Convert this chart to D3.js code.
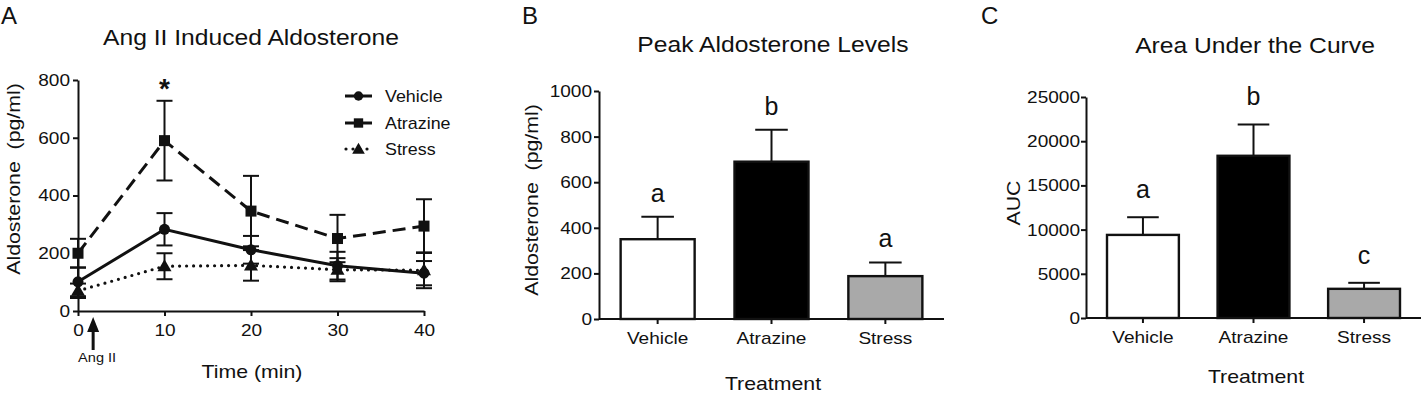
<!DOCTYPE html>
<html>
<head>
<meta charset="utf-8">
<script src="https://cdn.jsdelivr.net/npm/d3@7"></script>
<style>
  html, body { margin: 0; padding: 0; background: #fff; }
  svg { display: block; }
  text { font-family: "Liberation Sans", Arial, Helvetica, sans-serif; fill: #111; }
</style>
</head>
<body>
<svg id="chart" width="1424" height="394"></svg>
<script>
// ---------- data ----------
const times = [0, 10, 20, 30, 40];
const timeTicks = [0, 10, 20, 30, 40];
const aTicks = [0, 200, 400, 600, 800];

const vehicleMean = [101, 283, 212, 157, 131];
const vehicleSem  = [50, 56, 48, 48, 42];
const atrazineMean = [200, 590, 346, 251, 294];
const atrazineSem  = [50, 138, 122, 82, 93];
const stressMean = [70, 155, 158, 143, 141];
const stressSem  = [25, 45, 53, 40, 62];

const seriesNames = ["Vehicle", "Atrazine", "Stress"];

const categories = ["Vehicle", "Atrazine", "Stress"];
const peakMean = [350, 690, 188];
const peakSem  = [98, 140, 60];
const peakLetters = ["a", "b", "a"];
const peakTicks = [0, 200, 400, 600, 800, 1000];

const aucMean = [9400, 18350, 3300];
const aucSem  = [2000, 3550, 680];
const aucLetters = ["a", "b", "c"];
const aucTicks = [0, 5000, 10000, 15000, 20000, 25000];

const barFills = ["#ffffff", "#000000", "#a9a9a9"];

// ---------- helpers ----------
const svg = d3.select("#chart");
const SX = 1.12;
function stretch(sel, k) {
  sel.each(function () {
    const w = this.getComputedTextLength();
    if (w > 0) {
      d3.select(this).attr("textLength", w * k).attr("lengthAdjust", "spacingAndGlyphs");
    }
  });
}
function styleAxis(g) {
  g.select(".domain").attr("stroke", "#111").attr("stroke-width", 2);
  g.selectAll(".tick line").attr("stroke", "#111").attr("stroke-width", 2);
  g.selectAll(".tick text").attr("font-size", 17).attr("fill", "#111")
    .style("font-family", '"Liberation Sans", Arial, sans-serif');
}
function panelLetter(txt, x, y) {
  svg.append("text").attr("x", x).attr("y", y).text(txt)
    .attr("font-size", 24).style("font-family", '"Liberation Sans", Arial, sans-serif');
}

// ================= Panel A =================
const xA = d3.scaleLinear().domain([0, 40]).range([78, 424]);
const yA = d3.scaleLinear().domain([0, 800]).range([311, 80]);

panelLetter("A", 1, 24);
const tA = svg.append("text").attr("x", 251).attr("y", 45).attr("text-anchor", "middle")
  .attr("font-size", 22).text("Ang II Induced Aldosterone");
stretch(tA, SX);

const gAy = svg.append("g").attr("transform", "translate(78,0)")
  .call(d3.axisLeft(yA).tickValues(aTicks).tickSize(5).tickSizeOuter(0).tickPadding(3));
styleAxis(gAy);
const gAx = svg.append("g").attr("transform", "translate(0,311)")
  .call(d3.axisBottom(xA).tickValues(timeTicks).tickSize(5).tickSizeOuter(0).tickPadding(8));
styleAxis(gAx);
stretch(gAy.selectAll(".tick text"), SX);
stretch(gAx.selectAll(".tick text"), SX);

const yLabA = svg.append("text").attr("transform", "translate(20,179) rotate(-90)")
  .attr("text-anchor", "middle").attr("font-size", 19).text("Aldosterone\u00a0\u00a0(pg/ml)");
stretch(yLabA, SX);
const xLabA = svg.append("text").attr("x", 252).attr("y", 378).attr("text-anchor", "middle")
  .attr("font-size", 19).text("Time (min)");
stretch(xLabA, SX);

// Ang II arrow
const arrowX = xA(1.75);
svg.append("line").attr("x1", arrowX).attr("x2", arrowX).attr("y1", 328).attr("y2", 350)
  .attr("stroke", "#111").attr("stroke-width", 3);
svg.append("path").attr("d", `M${arrowX - 6},332 L${arrowX + 6},332 L${arrowX},317 Z`).attr("fill", "#111");
const angLab = svg.append("text").attr("x", arrowX + 4).attr("y", 362).attr("text-anchor", "middle")
  .attr("font-size", 13).text("Ang II");
stretch(angLab, SX);

const series = [
  { name: "Vehicle", mean: vehicleMean, sem: vehicleSem, dash: null, width: 3, marker: "circle" },
  { name: "Atrazine", mean: atrazineMean, sem: atrazineSem, dash: "13,7", width: 3, marker: "square" },
  { name: "Stress", mean: stressMean, sem: stressSem, dash: "0,7", width: 3.2, marker: "triangle" }
];
const lineGen = d3.line().x((d, i) => xA(times[i])).y(d => yA(d));

// error bars
series.forEach(s => {
  const g = svg.append("g");
  s.mean.forEach((m, i) => {
    const x = xA(times[i]);
    const y1 = yA(m + s.sem[i]), y0 = yA(m - s.sem[i]);
    g.append("line").attr("x1", x).attr("x2", x).attr("y1", y1).attr("y2", y0)
      .attr("stroke", "#111").attr("stroke-width", 2);
    [y1, y0].forEach(yy => g.append("line").attr("x1", x - 8).attr("x2", x + 8)
      .attr("y1", yy).attr("y2", yy).attr("stroke", "#111").attr("stroke-width", 2));
  });
});
// lines
series.forEach(s => {
  const p = svg.append("path").datum(s.mean).attr("d", lineGen).attr("fill", "none")
    .attr("stroke", "#111").attr("stroke-width", s.width);
  if (s.dash) p.attr("stroke-dasharray", s.dash);
  if (s.marker === "triangle") p.attr("stroke-linecap", "round");
});
function drawMarker(g, type, x, y, sc) {
  const k = sc || 1;
  if (type === "circle") g.append("circle").attr("cx", x).attr("cy", y).attr("r", 5.5 * k).attr("fill", "#111");
  else if (type === "square") g.append("rect").attr("x", x - 5.5 * k).attr("y", y - 5.5 * k)
    .attr("width", 11 * k).attr("height", 11 * k).attr("fill", "#111");
  else g.append("path").attr("d", d3.symbol(d3.symbolTriangle, 85 * k * k)()).attr("transform", `translate(${x},${y + 1})`).attr("fill", "#111");
}
series.forEach(s => {
  const g = svg.append("g");
  s.mean.forEach((m, i) => drawMarker(g, s.marker, xA(times[i]), yA(m)));
});

// asterisk
svg.append("text").attr("x", xA(10)).attr("y", 98).attr("text-anchor", "middle")
  .attr("font-size", 28).attr("font-weight", "bold").text("*");

// legend
const legY = [96, 123, 149];
series.forEach((s, i) => {
  const g = svg.append("g");
  const l = g.append("line").attr("x1", 345).attr("x2", 372).attr("y1", legY[i]).attr("y2", legY[i])
    .attr("stroke", "#111").attr("stroke-width", s.width);
  if (s.marker === "triangle") l.attr("stroke-dasharray", "0,7").attr("stroke-linecap", "round").attr("x1", 346);
  drawMarker(g, s.marker, 358.5, legY[i], s.marker === "triangle" ? 0.9 : 0.85);
  const t = g.append("text").attr("x", 385).attr("y", legY[i] + 6).attr("font-size", 17).text(seriesNames[i]);
  stretch(t, 1.05);
});

// ================= Bar panels =================
function barPanel(opt) {
  const x = d3.scaleBand().domain(categories).range([opt.x0, opt.x1]).paddingInner(0.35).paddingOuter(0.19);
  const y = d3.scaleLinear().domain([0, opt.max]).range([opt.yb, opt.yt]);

  panelLetter(opt.letter, opt.lx, 24);
  const t = svg.append("text").attr("x", opt.tx).attr("y", opt.ty).attr("text-anchor", "middle")
    .attr("font-size", 22).text(opt.title);
  stretch(t, SX);

  // bars
  categories.forEach((c, i) => {
    const bx = x(c), bw = x.bandwidth();
    const top = y(opt.mean[i]), et = y(opt.mean[i] + opt.sem[i]);
    const cx = bx + bw / 2;
    svg.append("line").attr("x1", cx).attr("x2", cx).attr("y1", top).attr("y2", et)
      .attr("stroke", "#111").attr("stroke-width", 2);
    svg.append("line").attr("x1", cx - bw * 0.22).attr("x2", cx + bw * 0.22).attr("y1", et).attr("y2", et)
      .attr("stroke", "#111").attr("stroke-width", 2);
    svg.append("rect").attr("x", bx).attr("y", top).attr("width", bw).attr("height", y(0) - top)
      .attr("fill", barFills[i]).attr("stroke", "#111").attr("stroke-width", 2.4);
    svg.append("text").attr("x", cx).attr("y", et - opt.lo).attr("text-anchor", "middle")
      .attr("font-size", 25).text(opt.letters[i]);
  });

  const gy = svg.append("g").attr("transform", `translate(${opt.x0},0)`)
    .call(d3.axisLeft(y).tickValues(opt.ticks).tickSize(5).tickSizeOuter(0).tickPadding(opt.tp).tickFormat(d3.format("d")));
  styleAxis(gy);
  const gx = svg.append("g").attr("transform", `translate(0,${opt.yb})`)
    .call(d3.axisBottom(x).tickSize(5).tickSizeOuter(0).tickPadding(8));
  styleAxis(gx);
  gx.select(".domain").attr("d", `M${opt.x0},0H${opt.x1}`);
  stretch(gy.selectAll(".tick text"), SX);
  stretch(gx.selectAll(".tick text"), SX);

  const yl = svg.append("text").attr("transform", `translate(${opt.ylx},${opt.yly}) rotate(-90)`)
    .attr("text-anchor", "middle").attr("font-size", 19).text(opt.ylabel);
  stretch(yl, SX);
  const xl = svg.append("text").attr("x", opt.xlx).attr("y", opt.xly).attr("text-anchor", "middle")
    .attr("font-size", 19).text("Treatment");
  stretch(xl, SX);
}

barPanel({
  letter: "B", lx: 522, title: "Peak Aldosterone Levels", tx: 773, ty: 52,
  x0: 599, x1: 944, yb: 319, yt: 91, max: 1000, ticks: peakTicks, tp: 2,
  mean: peakMean, sem: peakSem, letters: peakLetters, lo: 15,
  ylabel: "Aldosterone\u00a0\u00a0(pg/ml)", ylx: 538, yly: 200, xlx: 773, xly: 390
});
barPanel({
  letter: "C", lx: 981, title: "Area Under the Curve", tx: 1255, ty: 53,
  x0: 1086, x1: 1421, yb: 318, yt: 97, max: 25000, ticks: aucTicks, tp: 1,
  mean: aucMean, sem: aucSem, letters: aucLetters, lo: 19,
  ylabel: "AUC", ylx: 1020, yly: 203, xlx: 1256, xly: 383
});
</script>
</body>
</html>
